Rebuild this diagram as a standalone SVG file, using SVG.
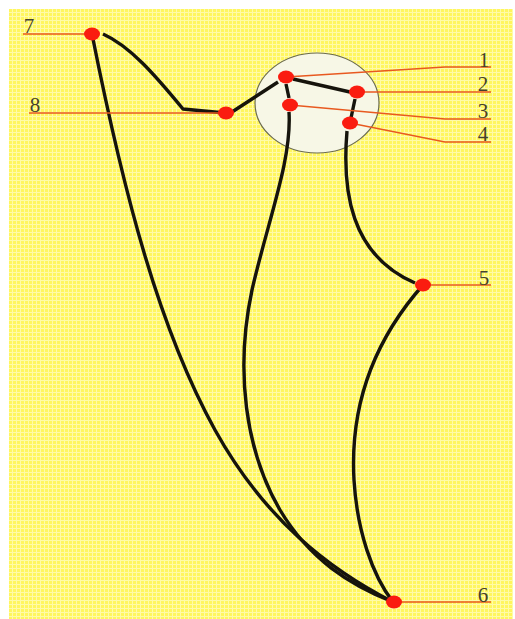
<svg xmlns="http://www.w3.org/2000/svg" width="515" height="619" viewBox="0 0 515 619">
<style>
.lead{fill:none;stroke:#e8591f;stroke-width:1.5}
.wire{fill:none;stroke:#16140c;stroke-width:3.4;stroke-linecap:butt;stroke-linejoin:round}
.dot{fill:#fa1c10}
.lab{font-family:"Liberation Serif","DejaVu Serif",serif;font-size:21px;fill:#45412c;text-anchor:middle}
</style>
<defs>
<pattern id="g" width="4" height="4" patternUnits="userSpaceOnUse">
<rect width="4" height="4" fill="#fff65f"/>
<path d="M0 .5H4M.5 0V4" stroke="#fffba8" stroke-width="1"/>
</pattern>
</defs>
<rect width="515" height="619" fill="#fff"/>
<rect x="9" y="9" width="504" height="610" fill="url(#g)"/>
<ellipse id="circle" cx="317" cy="103" rx="62" ry="50" fill="#f7f7e6" stroke="#6b6b50" stroke-width="1.2"/>
<g id="connectors">
<path class="wire" d="M103 34C130 46 155 75 183 109L225 113"/>
<path class="wire" d="M92 34C125 200 160 330 215 430C265 520 330 570 393 602"/>
<path class="wire" d="M232 112L278 82"/>
<path class="wire" d="M293 79L350 92"/>
<path class="wire" d="M286 84L289 98"/>
<path class="wire" d="M355 99L351 118"/>
<path class="wire" d="M289 112C292 160 268 220 252 290C235 370 245 450 280 510C310 560 350 585 393 602"/>
<path class="wire" d="M347 131C342 190 350 255 415 283"/>
<path class="wire" d="M423 285C370 345 350 410 354 480C357 530 372 575 393 602"/>
<path class="lead" d="M23 34H92"/>
<path class="lead" d="M29 113H226"/>
<path class="lead" d="M286 77L445 67H491"/>
<path class="lead" d="M357 92H491"/>
<path class="lead" d="M290 105L445 119H491"/>
<path class="lead" d="M350 123L445 142H491"/>
<path class="lead" d="M423 285H491"/>
<path class="lead" d="M393 602H491"/>
</g>
<g id="node-1"><ellipse class="dot" cx="286" cy="77" rx="8" ry="6.5"/><text class="lab" x="484" y="67">1</text></g>
<g id="node-2"><ellipse class="dot" cx="357" cy="92" rx="8" ry="6.5"/><text class="lab" x="483" y="91">2</text></g>
<g id="node-3"><ellipse class="dot" cx="290" cy="105" rx="8" ry="6.5"/><text class="lab" x="483" y="118">3</text></g>
<g id="node-4"><ellipse class="dot" cx="350" cy="123" rx="8" ry="6.5"/><text class="lab" x="483" y="141">4</text></g>
<g id="node-5"><ellipse class="dot" cx="423" cy="285" rx="8" ry="6.5"/><text class="lab" x="484" y="285">5</text></g>
<g id="node-6"><ellipse class="dot" cx="394" cy="602" rx="8" ry="6.5"/><text class="lab" x="483" y="602">6</text></g>
<g id="node-7"><ellipse class="dot" cx="92" cy="34" rx="8" ry="6.5"/><text class="lab" x="29" y="33">7</text></g>
<g id="node-8"><ellipse class="dot" cx="226" cy="113" rx="8" ry="6.5"/><text class="lab" x="35" y="112">8</text></g>
</svg>
